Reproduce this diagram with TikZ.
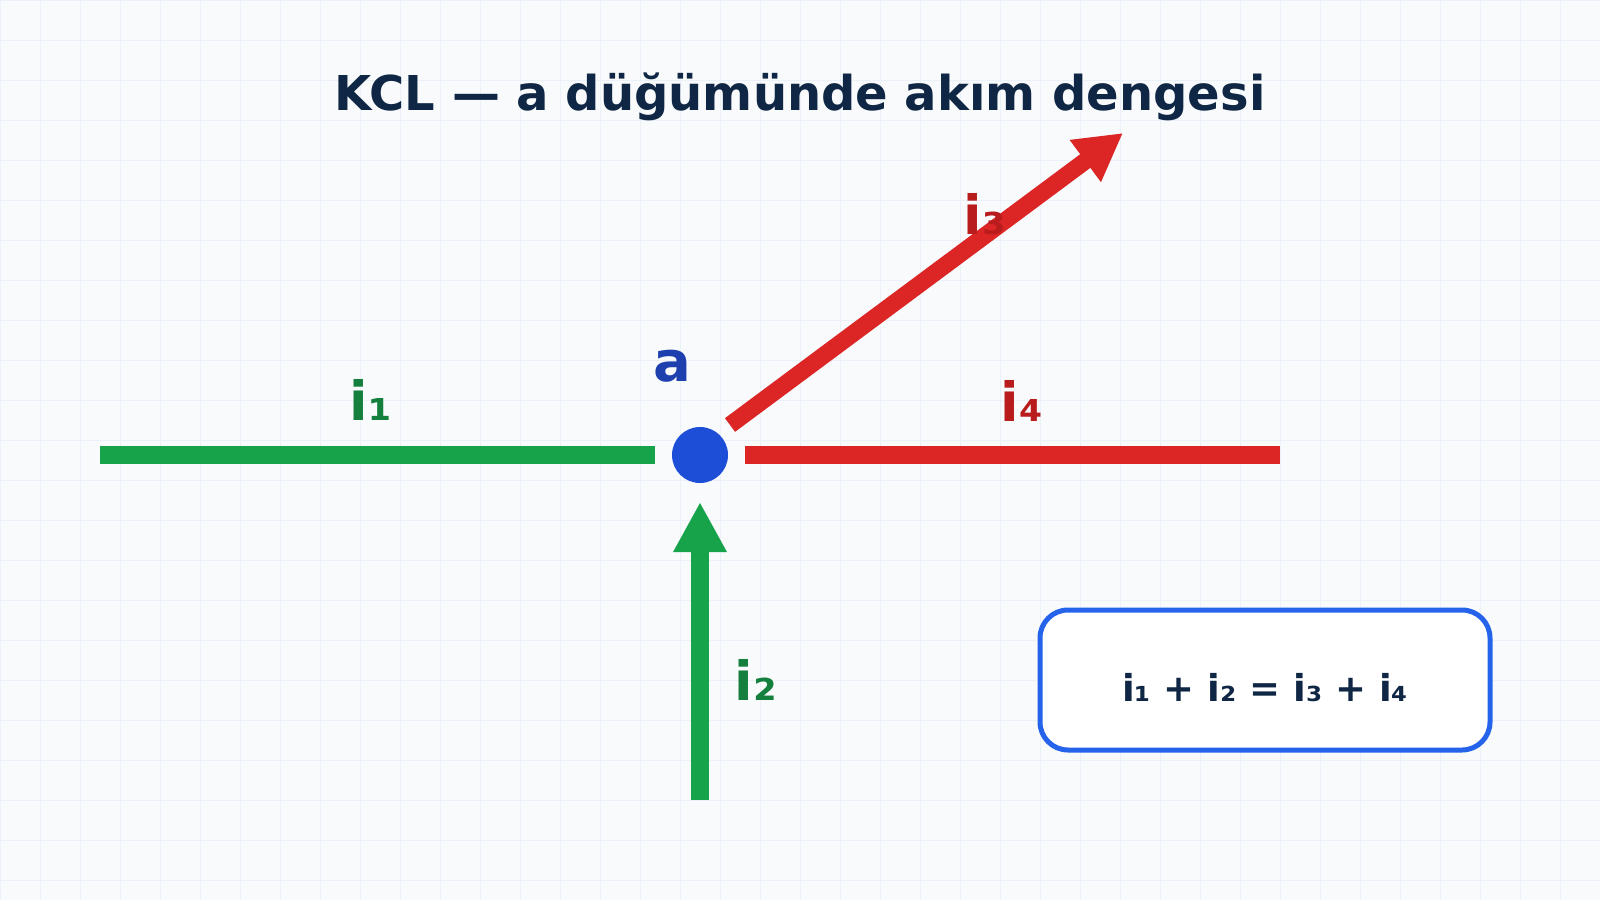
\documentclass[tikz,border=0pt]{standalone}
\usepackage{fontspec}
\setmainfont{DejaVu Sans}
\usetikzlibrary{arrows.meta}
\definecolor{bg}{HTML}{F8FAFC}
\definecolor{gridc}{HTML}{EBF1F9}
\definecolor{titlec}{HTML}{0F2744}
\definecolor{gr}{HTML}{16A34A}
\definecolor{grt}{HTML}{15803D}
\definecolor{rd}{HTML}{DC2626}
\definecolor{rdt}{HTML}{B91C1C}
\definecolor{nodeb}{HTML}{1D4ED8}
\definecolor{alab}{HTML}{1E40AF}
\definecolor{boxb}{HTML}{2563EB}
\tikzset{
  gwire/.style={draw=gr, line width=18pt, line cap=butt},
  rwire/.style={draw=rd, line width=18pt, line cap=butt},
  lab/.style={anchor=base, font=\bfseries\fontsize{54}{54}\selectfont, inner sep=0pt},
}
\begin{document}
\begin{tikzpicture}[x=1pt,y=-1pt]
\fill[bg] (0,0) rectangle (1600,900);
\useasboundingbox (0,0) rectangle (1600,900);
\foreach \x in {0,40,...,1600} \draw[gridc, line width=1pt] (\x,0) -- (\x,900);
\foreach \y in {0,40,...,880} \draw[gridc, line width=1pt] (0,\y) -- (1600,\y);

\node[anchor=base, font=\bfseries\fontsize{48}{48}\selectfont, text=titlec, inner sep=0pt] (title) at (800,110) {KCL — a düğümünde akım dengesi};

\node[circle, fill=nodeb, minimum size=56pt, inner sep=0pt] (a) at (700,455) {};
\node[anchor=base, font=\bfseries\fontsize{56}{56}\selectfont, text=alab, inner sep=0pt] (alabel) at (672,381) {a};

\coordinate (i1s) at (100,455);
\coordinate (i1e) at (655,455);
\coordinate (i4s) at (745,455);
\coordinate (i4e) at (1280,455);
\coordinate (i2s) at (700,800);
\coordinate (i2e) at (700,502);
\coordinate (i3s) at (730,425);
\coordinate (i3e) at (1123,133);

\draw[gwire] (i1s) -- (i1e);
\draw[rwire] (i4s) -- (i4e);
\draw[gwire, -{Triangle[length=50pt, width=50pt]}] (i2s) -- (i2e);
\draw[rwire, line width=17pt, -{Triangle[length=47pt, width=49pt]}] (i3s) -- (i3e);

\node[lab, text=grt] (l1) at (371,420) {i₁};
\node[lab, text=grt] (l2) at (756,700) {i₂};
\node[lab, text=rdt] (l3) at (985,234) {i₃};
\node[lab, text=rdt] (l4) at (1022,421) {i₄};

\node[draw=boxb, line width=5pt, rounded corners=28pt, fill=white, minimum width=450pt, minimum height=140pt, inner sep=0pt] (eq) at (1265,680) {};
\node[anchor=base, font=\bfseries\fontsize{37}{37}\selectfont, text=titlec, inner sep=0pt] (eqtext) at (1265,701) {i₁ + i₂ = i₃ + i₄};
\end{tikzpicture}
\end{document}
